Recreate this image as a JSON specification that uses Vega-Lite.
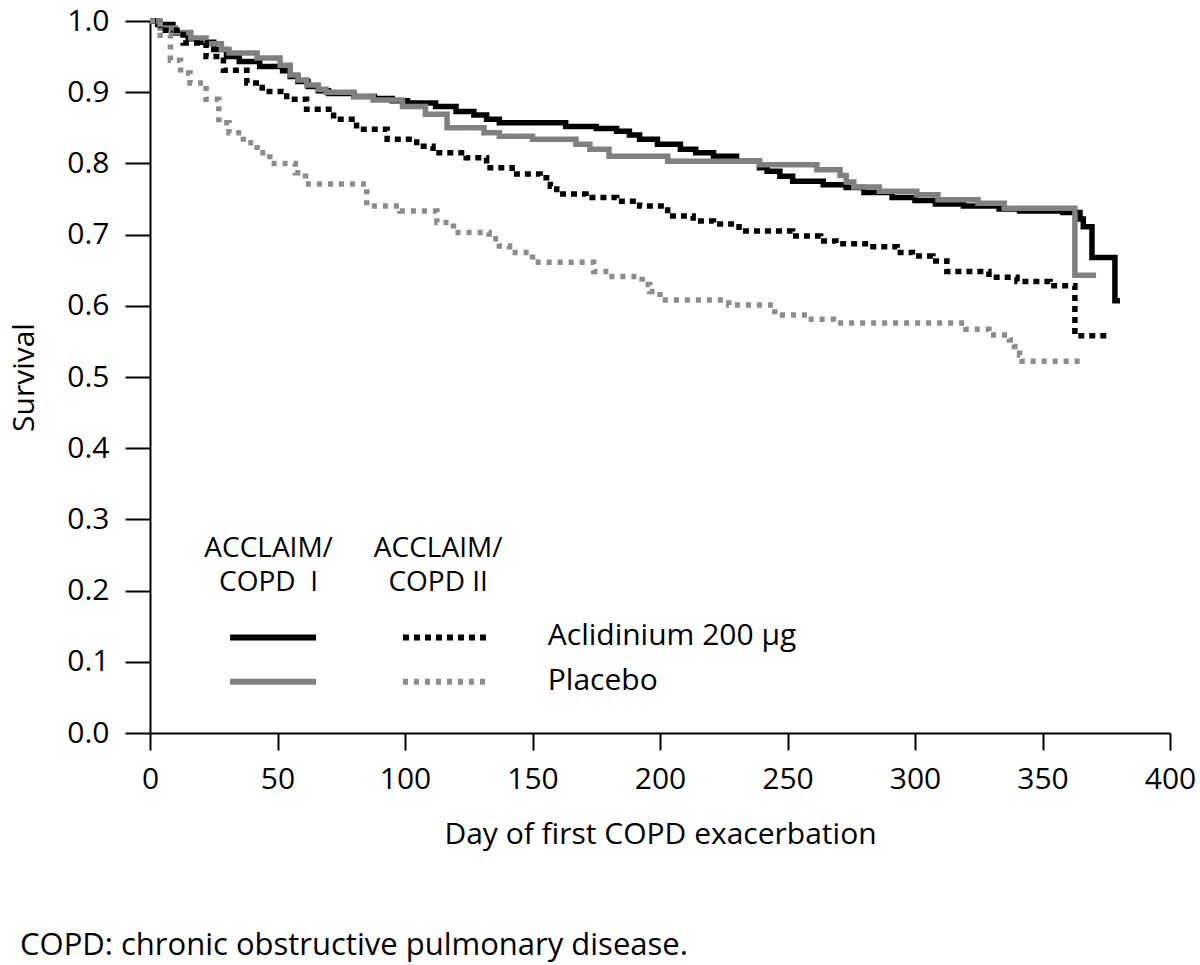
{
  "$schema": "https://vega.github.io/schema/vega-lite/v6.json",
  "width": 1020,
  "height": 712,
  "autosize": {"type": "none"},
  "padding": {"left": 150, "top": 21, "right": 30, "bottom": 232},
  "background": "white",
  "config": {
    "font": "Open Sans",
    "view": {"stroke": null},
    "axis": {"grid": false, "domainColor": "black", "domainWidth": 2, "tickColor": "black", "tickWidth": 2, "labelColor": "black", "titleColor": "black", "labelFont": "Open Sans", "titleFont": "Open Sans", "labelFontSize": 30, "titleFontSize": 30, "titleFontWeight": "normal", "labelFlush": false}
  },
  "title": {"text": "COPD: chronic obstructive pulmonary disease.", "orient": "bottom", "anchor": "start", "frame": "group", "dx": -130, "offset": 82, "font": "Open Sans", "fontSize": 31, "fontWeight": "normal", "color": "black"},
  "datasets": {
    "curves": [
      {"series": "Aclidinium I", "day": 0, "surv": 1.0},
      {"series": "Aclidinium I", "day": 3, "surv": 0.995},
      {"series": "Aclidinium I", "day": 9, "surv": 0.983},
      {"series": "Aclidinium I", "day": 15, "surv": 0.975},
      {"series": "Aclidinium I", "day": 20, "surv": 0.97},
      {"series": "Aclidinium I", "day": 25, "surv": 0.96},
      {"series": "Aclidinium I", "day": 30, "surv": 0.95},
      {"series": "Aclidinium I", "day": 35, "surv": 0.943},
      {"series": "Aclidinium I", "day": 43, "surv": 0.936},
      {"series": "Aclidinium I", "day": 52, "surv": 0.93},
      {"series": "Aclidinium I", "day": 55, "surv": 0.922},
      {"series": "Aclidinium I", "day": 58, "surv": 0.915},
      {"series": "Aclidinium I", "day": 62, "surv": 0.908},
      {"series": "Aclidinium I", "day": 66, "surv": 0.902},
      {"series": "Aclidinium I", "day": 70, "surv": 0.898},
      {"series": "Aclidinium I", "day": 80, "surv": 0.894},
      {"series": "Aclidinium I", "day": 88, "surv": 0.891},
      {"series": "Aclidinium I", "day": 95, "surv": 0.888},
      {"series": "Aclidinium I", "day": 101, "surv": 0.885},
      {"series": "Aclidinium I", "day": 112, "surv": 0.88},
      {"series": "Aclidinium I", "day": 120, "surv": 0.873},
      {"series": "Aclidinium I", "day": 127, "surv": 0.868},
      {"series": "Aclidinium I", "day": 132, "surv": 0.862},
      {"series": "Aclidinium I", "day": 137, "surv": 0.857},
      {"series": "Aclidinium I", "day": 163, "surv": 0.852},
      {"series": "Aclidinium I", "day": 175, "surv": 0.849},
      {"series": "Aclidinium I", "day": 183, "surv": 0.845},
      {"series": "Aclidinium I", "day": 188, "surv": 0.84},
      {"series": "Aclidinium I", "day": 192, "surv": 0.834},
      {"series": "Aclidinium I", "day": 199, "surv": 0.827},
      {"series": "Aclidinium I", "day": 208, "surv": 0.82},
      {"series": "Aclidinium I", "day": 214, "surv": 0.815},
      {"series": "Aclidinium I", "day": 221, "surv": 0.81},
      {"series": "Aclidinium I", "day": 230, "surv": 0.803},
      {"series": "Aclidinium I", "day": 239, "surv": 0.794},
      {"series": "Aclidinium I", "day": 242, "surv": 0.789},
      {"series": "Aclidinium I", "day": 247, "surv": 0.782},
      {"series": "Aclidinium I", "day": 252, "surv": 0.775},
      {"series": "Aclidinium I", "day": 264, "surv": 0.77},
      {"series": "Aclidinium I", "day": 273, "surv": 0.766},
      {"series": "Aclidinium I", "day": 280, "surv": 0.759},
      {"series": "Aclidinium I", "day": 291, "surv": 0.752},
      {"series": "Aclidinium I", "day": 300, "surv": 0.748},
      {"series": "Aclidinium I", "day": 308, "surv": 0.743},
      {"series": "Aclidinium I", "day": 319, "surv": 0.74},
      {"series": "Aclidinium I", "day": 333, "surv": 0.736},
      {"series": "Aclidinium I", "day": 341, "surv": 0.733},
      {"series": "Aclidinium I", "day": 358, "surv": 0.731},
      {"series": "Aclidinium I", "day": 364.7, "surv": 0.722},
      {"series": "Aclidinium I", "day": 366, "surv": 0.711},
      {"series": "Aclidinium I", "day": 369.4, "surv": 0.668},
      {"series": "Aclidinium I", "day": 378.4, "surv": 0.607},
      {"series": "Aclidinium I", "day": 380.4, "surv": 0.607},

      {"series": "Placebo I", "day": 0, "surv": 1.0},
      {"series": "Placebo I", "day": 4, "surv": 0.99},
      {"series": "Placebo I", "day": 10, "surv": 0.984},
      {"series": "Placebo I", "day": 16, "surv": 0.976},
      {"series": "Placebo I", "day": 22, "surv": 0.968},
      {"series": "Placebo I", "day": 28, "surv": 0.96},
      {"series": "Placebo I", "day": 31, "surv": 0.955},
      {"series": "Placebo I", "day": 42, "surv": 0.948},
      {"series": "Placebo I", "day": 51, "surv": 0.938},
      {"series": "Placebo I", "day": 55, "surv": 0.924},
      {"series": "Placebo I", "day": 58, "surv": 0.917},
      {"series": "Placebo I", "day": 61.5, "surv": 0.91},
      {"series": "Placebo I", "day": 66, "surv": 0.904},
      {"series": "Placebo I", "day": 69, "surv": 0.9},
      {"series": "Placebo I", "day": 80, "surv": 0.894},
      {"series": "Placebo I", "day": 87.5, "surv": 0.889},
      {"series": "Placebo I", "day": 99, "surv": 0.88},
      {"series": "Placebo I", "day": 108, "surv": 0.869},
      {"series": "Placebo I", "day": 116.5, "surv": 0.85},
      {"series": "Placebo I", "day": 131, "surv": 0.843},
      {"series": "Placebo I", "day": 137, "surv": 0.838},
      {"series": "Placebo I", "day": 150, "surv": 0.834},
      {"series": "Placebo I", "day": 167, "surv": 0.827},
      {"series": "Placebo I", "day": 172.5, "surv": 0.82},
      {"series": "Placebo I", "day": 180, "surv": 0.81},
      {"series": "Placebo I", "day": 203, "surv": 0.803},
      {"series": "Placebo I", "day": 239, "surv": 0.798},
      {"series": "Placebo I", "day": 261.5, "surv": 0.791},
      {"series": "Placebo I", "day": 270.6, "surv": 0.783},
      {"series": "Placebo I", "day": 273, "surv": 0.774},
      {"series": "Placebo I", "day": 276, "surv": 0.767},
      {"series": "Placebo I", "day": 286, "surv": 0.761},
      {"series": "Placebo I", "day": 300.7, "surv": 0.756},
      {"series": "Placebo I", "day": 309, "surv": 0.749},
      {"series": "Placebo I", "day": 324.7, "surv": 0.744},
      {"series": "Placebo I", "day": 335, "surv": 0.737},
      {"series": "Placebo I", "day": 362.7, "surv": 0.643},
      {"series": "Placebo I", "day": 371, "surv": 0.643},

      {"series": "Aclidinium II", "day": 0, "surv": 1.0},
      {"series": "Aclidinium II", "day": 4, "surv": 0.987},
      {"series": "Aclidinium II", "day": 13, "surv": 0.969},
      {"series": "Aclidinium II", "day": 22, "surv": 0.95},
      {"series": "Aclidinium II", "day": 28.8, "surv": 0.931},
      {"series": "Aclidinium II", "day": 38, "surv": 0.913},
      {"series": "Aclidinium II", "day": 44, "surv": 0.901},
      {"series": "Aclidinium II", "day": 53.6, "surv": 0.89},
      {"series": "Aclidinium II", "day": 61.4, "surv": 0.876},
      {"series": "Aclidinium II", "day": 72, "surv": 0.862},
      {"series": "Aclidinium II", "day": 81, "surv": 0.848},
      {"series": "Aclidinium II", "day": 93, "surv": 0.834},
      {"series": "Aclidinium II", "day": 104.6, "surv": 0.824},
      {"series": "Aclidinium II", "day": 111, "surv": 0.815},
      {"series": "Aclidinium II", "day": 124, "surv": 0.808},
      {"series": "Aclidinium II", "day": 132, "surv": 0.794},
      {"series": "Aclidinium II", "day": 142, "surv": 0.785},
      {"series": "Aclidinium II", "day": 153, "surv": 0.78},
      {"series": "Aclidinium II", "day": 157, "surv": 0.768},
      {"series": "Aclidinium II", "day": 159.5, "surv": 0.757},
      {"series": "Aclidinium II", "day": 171, "surv": 0.752},
      {"series": "Aclidinium II", "day": 183, "surv": 0.747},
      {"series": "Aclidinium II", "day": 192, "surv": 0.74},
      {"series": "Aclidinium II", "day": 203, "surv": 0.726},
      {"series": "Aclidinium II", "day": 213, "surv": 0.719},
      {"series": "Aclidinium II", "day": 221, "surv": 0.715},
      {"series": "Aclidinium II", "day": 231, "surv": 0.705},
      {"series": "Aclidinium II", "day": 252, "surv": 0.698},
      {"series": "Aclidinium II", "day": 263, "surv": 0.691},
      {"series": "Aclidinium II", "day": 269, "surv": 0.687},
      {"series": "Aclidinium II", "day": 283.5, "surv": 0.683},
      {"series": "Aclidinium II", "day": 293, "surv": 0.675},
      {"series": "Aclidinium II", "day": 299, "surv": 0.67},
      {"series": "Aclidinium II", "day": 307, "surv": 0.663},
      {"series": "Aclidinium II", "day": 312.5, "surv": 0.648},
      {"series": "Aclidinium II", "day": 329, "surv": 0.64},
      {"series": "Aclidinium II", "day": 340, "surv": 0.634},
      {"series": "Aclidinium II", "day": 353, "surv": 0.628},
      {"series": "Aclidinium II", "day": 362.7, "surv": 0.558},
      {"series": "Aclidinium II", "day": 375.8, "surv": 0.558},

      {"series": "Placebo II", "day": 0, "surv": 1.0},
      {"series": "Placebo II", "day": 4, "surv": 0.98},
      {"series": "Placebo II", "day": 8, "surv": 0.945},
      {"series": "Placebo II", "day": 12, "surv": 0.927},
      {"series": "Placebo II", "day": 15.7, "surv": 0.913},
      {"series": "Placebo II", "day": 22, "surv": 0.89},
      {"series": "Placebo II", "day": 27, "surv": 0.857},
      {"series": "Placebo II", "day": 31, "surv": 0.843},
      {"series": "Placebo II", "day": 36.6, "surv": 0.829},
      {"series": "Placebo II", "day": 42, "surv": 0.815},
      {"series": "Placebo II", "day": 47, "surv": 0.8},
      {"series": "Placebo II", "day": 57, "surv": 0.787},
      {"series": "Placebo II", "day": 61, "surv": 0.771},
      {"series": "Placebo II", "day": 85, "surv": 0.74},
      {"series": "Placebo II", "day": 98, "surv": 0.733},
      {"series": "Placebo II", "day": 112.5, "surv": 0.717},
      {"series": "Placebo II", "day": 119, "surv": 0.703},
      {"series": "Placebo II", "day": 133, "surv": 0.694},
      {"series": "Placebo II", "day": 137, "surv": 0.684},
      {"series": "Placebo II", "day": 141, "surv": 0.675},
      {"series": "Placebo II", "day": 150, "surv": 0.661},
      {"series": "Placebo II", "day": 174, "surv": 0.648},
      {"series": "Placebo II", "day": 180, "surv": 0.641},
      {"series": "Placebo II", "day": 193, "surv": 0.63},
      {"series": "Placebo II", "day": 196, "surv": 0.62},
      {"series": "Placebo II", "day": 200, "surv": 0.608},
      {"series": "Placebo II", "day": 227, "surv": 0.601},
      {"series": "Placebo II", "day": 245, "surv": 0.587},
      {"series": "Placebo II", "day": 258, "surv": 0.581},
      {"series": "Placebo II", "day": 268, "surv": 0.576},
      {"series": "Placebo II", "day": 320, "surv": 0.567},
      {"series": "Placebo II", "day": 329, "surv": 0.559},
      {"series": "Placebo II", "day": 337, "surv": 0.552},
      {"series": "Placebo II", "day": 339, "surv": 0.543},
      {"series": "Placebo II", "day": 341, "surv": 0.531},
      {"series": "Placebo II", "day": 342, "surv": 0.522},
      {"series": "Placebo II", "day": 366, "surv": 0.522}
    ],
    "legendLines": [
      {"series": "Aclidinium I", "x1": 31.4, "x2": 65.1, "y": 0.134},
      {"series": "Aclidinium II", "x1": 99.2, "x2": 132.5, "y": 0.134},
      {"series": "Placebo I", "x1": 31.4, "x2": 65.1, "y": 0.072},
      {"series": "Placebo II", "x1": 99.2, "x2": 132.5, "y": 0.072}
    ],
    "headers": [
      {"text": "ACCLAIM/", "x": 46.5, "y": 0.259},
      {"text": "COPD\u00a0\u00a0I", "x": 46.5, "y": 0.21},
      {"text": "ACCLAIM/", "x": 113, "y": 0.259},
      {"text": "COPD\u00a0II", "x": 113, "y": 0.21}
    ],
    "labels": [
      {"text": "Aclidinium 200 µg", "x": 156, "y": 0.136},
      {"text": "Placebo", "x": 156, "y": 0.073}
    ]
  },
  "layer": [
    {
      "data": {"name": "curves"},
      "mark": {"type": "line", "interpolate": "step-after", "strokeWidth": 5.5, "strokeCap": "butt", "strokeJoin": "miter"},
      "encoding": {
        "x": {"field": "day", "type": "quantitative", "scale": {"domain": [0, 400], "nice": false, "zero": false},
          "axis": {"values": [0, 50, 100, 150, 200, 250, 300, 350, 400], "format": "d", "tickSize": 17, "labelPadding": 14, "title": "Day of first COPD exacerbation", "titlePadding": 25}},
        "y": {"field": "surv", "type": "quantitative", "scale": {"domain": [0, 1], "nice": false},
          "axis": {"values": [0, 0.1, 0.2, 0.3, 0.4, 0.5, 0.6, 0.7, 0.8, 0.9, 1.0], "format": ".1f", "tickSize": 25, "labelPadding": 16, "title": "Survival", "titlePadding": 27}},
        "color": {"field": "series", "type": "nominal", "legend": null,
          "scale": {"domain": ["Aclidinium I", "Placebo I", "Aclidinium II", "Placebo II"], "range": ["#000000", "#808080", "#000000", "#8c8c8c"]}},
        "strokeDash": {"field": "series", "type": "nominal", "legend": null,
          "scale": {"domain": ["Aclidinium I", "Placebo I", "Aclidinium II", "Placebo II"], "range": [[1, 0], [1, 0], [6, 5], [5, 6]]}},
        "order": {"field": "day", "type": "quantitative"}
      }
    },
    {
      "data": {"name": "legendLines"},
      "mark": {"type": "rule", "strokeWidth": 6, "strokeCap": "butt"},
      "encoding": {
        "x": {"field": "x1", "type": "quantitative"},
        "x2": {"field": "x2"},
        "y": {"field": "y", "type": "quantitative"},
        "color": {"field": "series", "type": "nominal", "legend": null},
        "strokeDash": {"field": "series", "type": "nominal", "legend": null}
      }
    },
    {
      "data": {"name": "headers"},
      "mark": {"type": "text", "align": "center", "baseline": "middle", "fontSize": 28, "font": "Open Sans", "color": "black"},
      "encoding": {
        "x": {"field": "x", "type": "quantitative"},
        "y": {"field": "y", "type": "quantitative"},
        "text": {"field": "text"}
      }
    },
    {
      "data": {"name": "labels"},
      "mark": {"type": "text", "align": "left", "baseline": "middle", "fontSize": 30, "font": "Open Sans", "color": "black"},
      "encoding": {
        "x": {"field": "x", "type": "quantitative"},
        "y": {"field": "y", "type": "quantitative"},
        "text": {"field": "text"}
      }
    }
  ]
}
